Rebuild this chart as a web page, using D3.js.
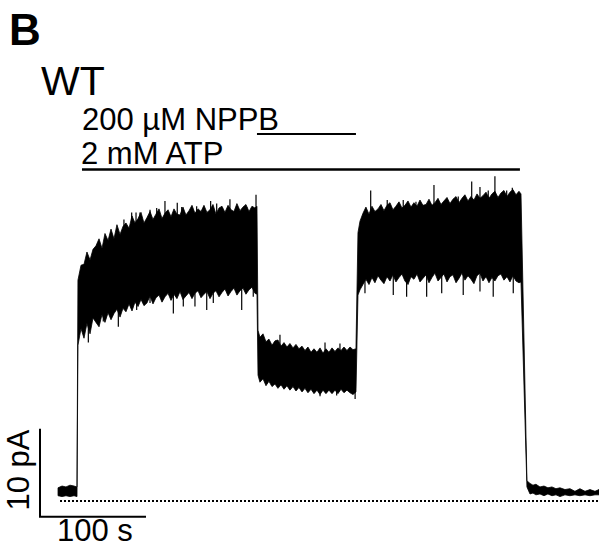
<!DOCTYPE html>
<html>
<head>
<meta charset="utf-8">
<script src="https://d3js.org/d3.v7.min.js"></script>
<style>
  body { margin: 0; background: #fff; }
  text { font-family: "Liberation Sans", Arial, sans-serif; fill: #000; }
</style>
</head>
<body>
<div id="chart"></div>
<script>
// current trace: time (s), upper and lower edge of the noise band (pA)
var preT  = [17.0, 20.8, 24.5, 28.3, 32.1, 34.9];
var preHi = [1.5, 1.7, 1.6, 1.8, 1.7, 1.6];
var preLo = [0.6, 0.5, 0.6, 0.5, 0.6, 0.5];

var atpT  = [35.8, 38.7, 41.5, 44.3, 47.2, 50.0, 52.8, 55.7, 58.5, 61.3, 64.2, 67.0, 69.8, 72.6, 75.5, 78.3,
             81.1, 84.0, 86.8, 89.6, 92.5, 95.3, 98.1, 100.9, 103.8, 106.6, 109.4, 112.3, 115.1, 117.9, 120.8,
             123.6, 126.4, 129.2, 132.1, 134.9, 137.7, 140.6, 143.4, 146.2, 149.1, 151.9, 154.7, 157.5, 160.4,
             163.2, 166.0, 168.9, 171.7, 174.5, 177.4, 180.2, 183.0, 185.8, 188.7, 191.5, 194.3, 197.2, 200.0,
             202.8, 204.7];
var atpHi = [25.1, 26.8, 26.9, 28.3, 27.4, 28.6, 29.0, 29.8, 28.7, 30.4, 29.6, 30.9, 29.8, 31.4, 30.3, 31.2,
             31.6, 31.0, 32.4, 31.6, 32.1, 32.8, 31.6, 32.2, 32.9, 32.0, 32.6, 33.2, 32.1, 32.7, 33.1,
             32.3, 33.2, 32.6, 32.5, 33.4, 32.5, 33.0, 33.6, 32.7, 33.2, 32.9, 33.6, 32.8, 33.1,
             33.7, 32.6, 33.3, 33.5, 32.8, 33.6, 33.1, 32.9, 33.8, 33.0, 33.4, 33.7, 32.9, 33.5,
             33.3, 33.5];
var atpLo = [17.7, 19.6, 18.5, 20.2, 19.0, 20.8, 20.3, 19.8, 21.2, 20.3, 21.4, 20.6, 21.3, 21.8, 20.9, 21.9,
             21.5, 22.4, 21.6, 22.6, 22.1, 22.9, 22.2, 22.5, 23.3, 22.4, 23.1, 23.4, 22.6, 23.2, 23.6,
             22.8, 23.5, 23.0, 23.8, 22.9, 23.3, 23.7, 23.0, 23.6, 23.9, 23.1, 23.5, 23.8, 23.0,
             23.6, 23.9, 23.2, 23.7, 24.1, 23.3, 23.8, 24.2, 23.4, 23.9, 24.2, 23.5, 24.0, 24.3,
             23.6, 23.5];

var nppbT  = [205.7, 207.5, 210.4, 213.2, 216.0, 218.9, 221.7, 224.5, 227.4, 230.2, 233.0, 235.8, 238.7,
              241.5, 244.3, 247.2, 250.0, 252.8, 255.7, 258.5, 261.3, 264.2, 267.0, 269.8, 272.6, 275.5,
              278.3, 281.1, 284.0, 286.8, 289.6, 292.5, 295.3, 298.1];
var nppbHi = [19.4, 18.6, 19.0, 18.1, 18.4, 17.7, 18.2, 18.3, 17.6, 18.0, 17.5, 17.9, 17.4,
              17.8, 17.3, 17.6, 17.1, 17.5, 16.9, 17.3, 16.9, 17.4, 16.8, 17.3, 16.9, 17.4,
              17.0, 17.4, 17.1, 17.5, 17.1, 17.5, 17.2, 17.3];
var nppbLo = [14.3, 13.5, 13.9, 13.1, 13.6, 13.0, 13.3, 12.8, 13.2, 12.7, 13.1, 12.6, 13.0,
              12.5, 12.9, 12.4, 12.8, 12.3, 12.7, 12.2, 12.6, 12.1, 12.6, 12.2, 12.6, 12.2,
              12.6, 12.2, 12.7, 12.3, 12.6, 12.3, 12.1, 12.4];

var washT  = [300.0, 301.9, 304.7, 307.5, 310.4, 313.2, 316.0, 318.9, 321.7, 324.5, 327.4, 330.2, 333.0,
              335.8, 338.7, 341.5, 344.3, 347.2, 350.0, 352.8, 355.7, 358.5, 361.3, 364.2, 367.0, 369.8,
              372.6, 375.5, 378.3, 381.1, 384.0, 386.8, 389.6, 392.5, 395.3, 398.1, 400.9, 403.8, 406.6,
              409.4, 412.3, 415.1, 417.9, 420.8, 423.6, 426.4, 429.2, 432.1, 434.9, 437.7, 440.6, 443.4,
              446.2, 449.1, 451.9, 453.8];
var washHi = [30.5, 31.8, 32.7, 33.4, 32.6, 33.5, 32.9, 33.2, 33.7, 33.0, 33.6, 33.9, 33.1,
              33.5, 34.0, 33.3, 33.6, 34.1, 33.4, 33.9, 33.5, 34.2, 33.6, 33.7, 34.3, 33.6,
              33.9, 34.4, 33.7, 34.1, 34.5, 33.8, 34.3, 34.6, 33.9, 34.4, 34.8, 34.1, 34.6,
              34.2, 34.9, 34.4, 34.7, 35.1, 34.4, 34.9, 35.2, 34.5, 35.0, 35.3, 34.6, 35.1,
              35.4, 34.8, 35.2, 34.9];
var washLo = [23.4, 24.0, 24.6, 25.2, 24.6, 25.4, 24.8, 25.6, 25.1, 24.7, 25.5, 25.0, 25.7,
              24.9, 25.4, 25.8, 25.0, 24.6, 25.5, 25.2, 25.8, 24.9, 25.3, 25.7, 24.8, 25.4,
              25.9, 25.0, 25.4, 25.8, 24.9, 25.5, 25.7, 24.8, 25.3, 25.9, 25.1, 25.6, 25.2,
              24.7, 25.6, 25.9, 25.0, 25.5, 24.8, 25.4, 25.0, 25.6, 25.8, 25.1, 25.5, 24.9,
              25.6, 25.0, 24.8, 24.9];

var postT  = [459.4, 462.3, 465.1, 467.9, 471.7, 475.5, 479.2, 483.0, 486.8, 490.6, 495.3, 500.0,
              504.7, 509.4, 514.2, 518.9, 523.6, 527.4];
var postHi = [2.3, 2.0, 1.8, 1.9, 1.6, 1.7, 1.5, 1.6, 1.4, 1.5, 1.3, 1.4, 1.1, 1.4, 1.1, 1.3, 1.1, 1.3];
var postLo = [1.6, 0.8, 0.9, 0.7, 0.8, 0.6, 0.8, 0.6, 0.7, 0.5, 0.7, 0.6, 0.7, 0.6, 0.7, 0.6, 0.7, 0.7];

// single noise spikes that stick out of the band: time (s), tip (pA)
var spikeT = [79.2, 86.5, 90.6, 94.3, 103.8, 110.1, 117.9, 129.5, 133.7, 147.8, 161.0, 166.7, 179.2, 185.6, 195.0, 203.8,
              45.6, 59.7, 73.9, 91.2, 103.8, 125.8, 135.2, 146.2, 157.3, 163.5, 190.3, 201.2,
              226.4, 268.9, 283.0, 264.2, 279.9, 297.3,
              312.0, 327.6, 342.7, 354.7, 371.7, 383.7, 394.6, 407.3, 415.1, 422.9, 429.2, 440.3, 445.6, 452.8,
              306.6, 333.3, 345.9, 364.8, 379.0, 399.3, 415.1, 427.6, 446.5];
var spikeI = [32.0, 32.8, 32.8, 32.8, 33.1, 33.3, 34.1, 33.9, 33.4, 33.5, 34.1, 33.8, 34.3, 33.1, 33.4, 34.8,
              18.0, 20.4, 19.8, 21.7, 22.5, 21.3, 22.1, 22.1, 21.7, 22.5, 21.7, 23.2,
              18.9, 18.0, 17.9, 11.9, 12.0, 11.6,
              35.3, 34.2, 34.2, 34.0, 35.9, 34.2, 34.6, 36.3, 35.7, 35.3, 36.9, 35.3, 35.6, 34.8,
              23.6, 23.4, 23.2, 23.2, 23.6, 23.4, 23.8, 23.2, 23.6];

// application bars (s)
var nppbBar = [204.7, 298.1];
var atpBar  = [39.6, 452.8];
var nppbLabel = "200 \u00b5M NPPB";
var atpLabel  = "2 mM ATP";

// scale bars and zero-current line
var scaleBarT = 100, scaleBarI = 10;
var scaleOrigin = [0, -1.8];
var zeroLineStart = 18.9;

var W = 599, H = 547;
var svg = d3.select("#chart").append("svg")
    .attr("width", W).attr("height", H);

var x = d3.scaleLinear().domain([0, 527.4]).range([40, 599]);
var y = d3.scaleLinear().domain([0, 36.8]).range([501, 177.2]);

function rows(t, hi, lo) {
  return t.map(function(d, i) { return {t: d, hi: hi[i], lo: lo[i]}; });
}
var trace = [].concat(
  rows(preT, preHi, preLo),
  rows(atpT, atpHi, atpLo),
  rows(nppbT, nppbHi, nppbLo),
  rows(washT, washHi, washLo),
  rows(postT, postHi, postLo)
);

// zero line
svg.append("line")
    .attr("x1", Math.round(x(zeroLineStart))).attr("x2", x(527.4))
    .attr("y1", y(0)).attr("y2", y(0))
    .attr("stroke", "#000").attr("stroke-width", 2)
    .attr("stroke-dasharray", "2,2");

var area = d3.area()
    .x(function(d) { return x(d.t); })
    .y0(function(d) { return y(d.lo); })
    .y1(function(d) { return y(d.hi); });

svg.append("path")
    .datum(trace)
    .attr("d", area)
    .attr("fill", "#000")
    .attr("stroke", "#000")
    .attr("stroke-width", 0.8)
    .attr("stroke-linejoin", "miter");

// spikes go from the middle of the band to the tip
var bis = d3.bisector(function(d) { return d.t; }).left;
function mid(t) {
  var i = Math.min(bis(trace, t), trace.length - 1);
  return (trace[i].hi + trace[i].lo) / 2;
}
svg.append("g").selectAll("line")
    .data(spikeT)
    .enter().append("line")
    .attr("x1", function(d) { return x(d); })
    .attr("x2", function(d) { return x(d); })
    .attr("y1", function(d) { return y(mid(d)); })
    .attr("y2", function(d, i) { return y(spikeI[i]); })
    .attr("stroke", "#000").attr("stroke-width", 1.2);

// drug bars
svg.append("line")
    .attr("x1", x(nppbBar[0])).attr("x2", x(nppbBar[1]))
    .attr("y1", 134).attr("y2", 134)
    .attr("stroke", "#000").attr("stroke-width", 2);
svg.append("line")
    .attr("x1", x(atpBar[0])).attr("x2", x(atpBar[1]))
    .attr("y1", 169.5).attr("y2", 169.5)
    .attr("stroke", "#000").attr("stroke-width", 2.5);

svg.append("text").attr("x", 82).attr("y", 130)
    .style("font-size", "31px").text(nppbLabel);
svg.append("text").attr("x", 81).attr("y", 164)
    .style("font-size", "31px").text(atpLabel);

// panel labels
svg.append("text").attr("x", 9).attr("y", 45)
    .style("font-size", "44px").style("font-weight", "bold").text("B");
svg.append("text").attr("x", 41).attr("y", 95)
    .style("font-size", "41px").text("WT");

// scale bars
var sb = d3.path();
sb.moveTo(x(scaleOrigin[0]), y(scaleOrigin[1] + scaleBarI));
sb.lineTo(x(scaleOrigin[0]), y(scaleOrigin[1]));
sb.lineTo(x(scaleOrigin[0] + scaleBarT), y(scaleOrigin[1]));
svg.append("path").attr("d", sb.toString())
    .attr("fill", "none").attr("stroke", "#000").attr("stroke-width", 2);

svg.append("text").attr("x", 57).attr("y", 541)
    .style("font-size", "31px").text(scaleBarT + " s");
svg.append("text")
    .attr("transform", "translate(29,470) rotate(-90)")
    .attr("text-anchor", "middle")
    .style("font-size", "31px").text(scaleBarI + " pA");
</script>
</body>
</html>
